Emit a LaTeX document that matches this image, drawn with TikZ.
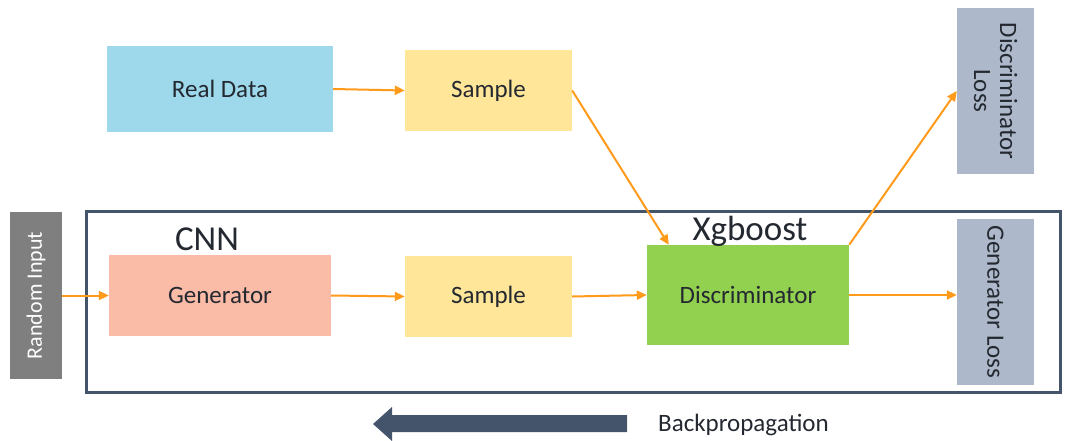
\documentclass[tikz,border=0pt]{standalone}
\usepackage{fontspec}
\setmainfont{Carlito}
\usetikzlibrary{arrows.meta,positioning}
\definecolor{realc}{RGB}{157,217,235}
\definecolor{samplec}{RGB}{255,230,153}
\definecolor{genc}{RGB}{250,187,167}
\definecolor{discc}{RGB}{146,208,80}
\definecolor{lossc}{RGB}{173,185,202}
\definecolor{randc}{RGB}{127,127,127}
\definecolor{framec}{RGB}{68,84,106}
\definecolor{arrc}{RGB}{255,154,26}
\definecolor{txtc}{RGB}{36,40,48}
\begin{document}
\begin{tikzpicture}[x=1pt,y=-1pt,
  box/.style={draw=none,inner sep=0pt,text=txtc,font=\fontsize{25}{28}\selectfont},
  vtxt/.style={inner sep=0pt,text=txtc,font=\fontsize{25}{26}\selectfont,align=center},
  flow/.style={draw=arrc,line width=2pt,-{Triangle[length=10pt,width=9pt]}},
  big/.style={text=txtc,font=\fontsize{35}{37}\selectfont,inner sep=0pt}]
\useasboundingbox (0,0) rectangle (1066,441);
% frame
\draw[framec,line width=3pt] (86,211) rectangle (1060,392);
% boxes
\node[box,fill=realc,minimum width=226pt,minimum height=86pt] (real) at (220,89) {Real Data};
\node[box,fill=samplec,minimum width=167pt,minimum height=81pt] (s1) at (488.5,90.5) {Sample};
\node[box,fill=lossc,minimum width=77pt,minimum height=166pt] (dloss) at (995.5,91) {};
\node[vtxt,rotate=-90] (dlosst) at (dloss.center) {Discriminator\\Loss};
\node[box,fill=randc,minimum width=52pt,minimum height=167pt] (rand) at (36,295.5) {};
\node[vtxt,text=white,font=\fontsize{22}{24}\selectfont,rotate=90] (randt) at (rand.center) {Random Input};
\node[box,fill=genc,minimum width=222pt,minimum height=81pt] (gen) at (220,295.5) {Generator};
\node[box,fill=samplec,minimum width=167pt,minimum height=81pt] (s2) at (488.5,296.5) {Sample};
\node[box,fill=discc,minimum width=202pt,minimum height=100pt] (disc) at (748,295) {Discriminator};
\node[box,fill=lossc,minimum width=77pt,minimum height=166pt] (gloss) at (995.5,302) {};
\node[vtxt,rotate=-90] (glosst) at (gloss.center) {Generator Loss};
\node[big] (cnn) at (207,239) {CNN};
\node[big] (xgb) at (750,231) {Xgboost};
% arrows
\draw[flow] (real.east) -- (s1.west);
\draw[flow] (s1.east) -- ([xshift=22pt]disc.north west);
\draw[flow] (rand.east) -- (gen.west);
\draw[flow] (gen.east) -- (s2.west);
\draw[flow] (s2.east) -- (disc.west);
\draw[flow] (disc.north east) -- (dloss.west);
\draw[flow] (disc.east) -- (gloss.west |- disc.east);
% backprop arrow
\fill[framec] (627,415) -- (392,415) -- (392,407) -- (373,424) -- (392,441) -- (392,432) -- (627,432) -- cycle;
\node[text=txtc,font=\fontsize{25}{27}\selectfont,inner sep=0pt,anchor=west] (bp) at (658,425) {Backpropagation};
\end{tikzpicture}
\end{document}
